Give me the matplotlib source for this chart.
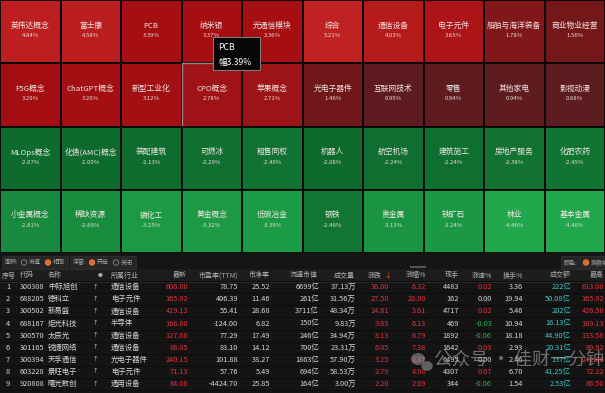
import matplotlib
matplotlib.use('Agg')
import matplotlib.pyplot as plt
from matplotlib.patches import Rectangle, Circle, Ellipse
from matplotlib.colors import LinearSegmentedColormap, Normalize

plt.rcParams['font.family'] = ['Noto Sans CJK SC', 'DejaVu Sans']

# ---- treemap data (4 rows x 10 cols, equal area) ----
sectors = ['英伟达概念', '富士康', 'PCB', '纳米银', '光通信模块', '综合', '通信设备', '电子元件', '船舶与海洋装备', '商业物业经营',
           'F5G概念', 'ChatGPT概念', '新型工业化', 'CPO概念', '苹果概念', '光电子器件', '互联网技术', '零售', '其他家电', '影视动漫',
           'MLOps概念', '化债(AMC)概念', '装配建筑', '可燃冰', '租售同权', '机器人', '航空机场', '建筑施工', '房地产服务', '化肥农药',
           '小金属概念', '稀缺资源', '磷化工', '黄金概念', '低碳冶金', '钢铁', '贵金属', '铁矿石', '林业', '基本金属']
changes = [4.84, 4.58, 3.39, 3.37, 3.36, 5.21, 4.03, 3.65, 1.78, 1.56,
           3.29, 3.20, 3.12, 2.78, 2.71, 1.46, 0.95, 0.94, 0.94, 0.88,
           -2.07, -2.09, -2.13, -2.29, -2.40, -2.08, -2.24, -2.24, -2.38, -2.45,
           -2.81, -2.89, -3.25, -3.32, -3.39, -2.46, -3.13, -3.24, -4.46, -4.46]

# ---- table data ----
idx = ['1', '2', '3', '4', '5', '6', '7', '8', '9']
codes = ['300308', '688205', '300502', '688167', '300570', '301165', '300394', '603228', '920808']
names = ['中际旭创', '德科立', '新易盛', '炬光科技', '太辰光', '锐捷网络', '天孚通信', '景旺电子', '曙光数创']
industry = ['通信设备', '电子元件', '通信设备', '半导体', '通信设备', '通信设备', '光电子器件', '电子元件', '通用设备']
last = ['606.00', '165.02', '419.13', '166.80', '127.88', '88.05', '240.15', '71.13', '84.08']
pe = ['78.75', '406.39', '55.41', '-124.00', '77.29', '83.10', '101.88', '57.76', '-4424.70']
pb = ['25.52', '11.46', '28.68', '6.82', '17.49', '14.12', '38.27', '5.49', '25.85']
float_cap = ['6699亿', '261亿', '3711亿', '150亿', '246亿', '700亿', '1863亿', '694亿', '164亿']
volume = ['37.13万', '31.56万', '48.34万', '9.83万', '34.94万', '23.31万', '57.90万', '58.53万', '3.00万']
chg = ['36.00', '27.50', '14.61', '9.63', '8.13', '6.05', '3.25', '2.79', '2.20']
chg_pct = ['6.32', '20.00', '3.61', '6.13', '6.79', '7.38', '1.37', '4.08', '2.69']
hand = ['4483', '162', '4717', '469', '1892', '1642', '6495', '4307', '344']
speed = ['0.02', '0.00', '0.02', '-0.03', '-0.06', '0.03', '0.00', '0.07', '-0.06']
turnover = ['3.36', '19.94', '5.46', '10.94', '18.18', '2.93', '2.46', '6.70', '1.54']
amount = ['222亿', '50.08亿', '202亿', '16.13亿', '44.90亿', '20.31亿', '137亿', '41.25亿', '2.53亿']
high = ['613.00', '165.02', '426.50', '169.13', '133.58', '89.92', '242.00', '72.22', '86.50']

RED = '#e0323a'
CYAN = '#3cc6c6'
GREEN = '#25b24c'
WHITE = '#d6d6d6'

fig = plt.figure(figsize=(6.05, 3.93), dpi=100)
fig.patch.set_facecolor('#141414')
ax = fig.add_axes([0, 0, 1, 1])
ax.set_xlim(0, 605)
ax.set_ylim(393, 0)
ax.axis('off')

# colour scales
red_cmap = LinearSegmentedColormap.from_list('r', [
    (0.0, '#5c1c20'), (0.13, '#6f1719'), (0.2, '#7f1719'), (0.4, '#9d1417'),
    (0.56, '#a40e11'), (0.7, '#b51a1c'), (1.0, '#c02222')])
red_norm = Normalize(0.88, 5.25)
green_cmap = LinearSegmentedColormap.from_list('g', [
    (0.0, '#0c6a2c'), (0.18, '#127433'), (0.32, '#178a3d'), (0.52, '#1c9a44'), (1.0, '#21a84d')])
green_norm = Normalize(2.0, 4.5)

ncol, nrow = 10, 4
W, H = 605, 253
cw, ch = W / ncol, H / nrow
for i, (n, v) in enumerate(zip(sectors, changes)):
    r, c = divmod(i, ncol)
    x0, y0 = c * cw, r * ch
    if v >= 0:
        col = red_cmap(red_norm(v))
    else:
        col = green_cmap(green_norm(-v))
    ec = '#050505'
    lw = 1.3
    if n == 'CPO概念':
        ec, lw = '#8c8c8c', 1.0
    ax.add_patch(Rectangle((x0, y0), cw, ch, facecolor=col, edgecolor=ec, lw=lw, zorder=1))
    ax.text(x0 + cw / 2, y0 + ch / 2 - 6, n, ha='center', va='center', fontsize=5.6, color='#f0e4e4', zorder=2)
    ax.text(x0 + cw / 2, y0 + ch / 2 + 4, f'{v:.2f}%', ha='center', va='center', fontsize=4.3,
            color='#e8d8d8', zorder=2)

# tooltip
ax.add_patch(Rectangle((213, 37), 47, 33, facecolor='#060606', edgecolor='#7a7a7a', lw=0.8, zorder=5))
ax.text(218, 48, 'PCB', fontsize=6.2, color='white', va='center', zorder=6)
ax.text(218, 62, '幅3.39%', fontsize=6.2, color='white', va='center', zorder=6)

# control bar
ax.add_patch(Rectangle((0, H), 605, 16, facecolor='#151515', lw=0, zorder=1))
for bx, bw in [(2, 66), (70, 66), (561, 44)]:
    ax.add_patch(Rectangle((bx, 256), bw, 13, facecolor='#262626', edgecolor='#333333', lw=0.5, zorder=2))
cy = 262.5
ax.text(5, cy, '面积:', fontsize=4.3, color='#a8a8a8', va='center', zorder=3)
ax.add_patch(Circle((24, cy), 2.7, facecolor='none', edgecolor='#8a8a8a', lw=0.6, zorder=3))
ax.text(29, cy, '市值', fontsize=4.3, color='#a8a8a8', va='center', zorder=3)
ax.add_patch(Circle((48, cy), 2.7, facecolor='#e8681e', edgecolor='#f08a40', lw=0.6, zorder=3))
ax.text(53, cy, '相同', fontsize=4.3, color='#a8a8a8', va='center', zorder=3)
ax.text(73, cy, '浮窗:', fontsize=4.3, color='#a8a8a8', va='center', zorder=3)
ax.add_patch(Circle((92, cy), 2.7, facecolor='#e8681e', edgecolor='#f08a40', lw=0.6, zorder=3))
ax.text(97, cy, '开启', fontsize=4.3, color='#a8a8a8', va='center', zorder=3)
ax.add_patch(Circle((116, cy), 2.7, facecolor='none', edgecolor='#8a8a8a', lw=0.6, zorder=3))
ax.text(121, cy, '关闭', fontsize=4.3, color='#a8a8a8', va='center', zorder=3)
ax.text(564, cy, '颜色:', fontsize=4.3, color='#a8a8a8', va='center', zorder=3)
ax.add_patch(Circle((586, cy), 2.7, facecolor='#e8681e', edgecolor='#f08a40', lw=0.6, zorder=3))
ax.text(591, cy, '涨跌幅', fontsize=4.3, color='#a8a8a8', va='center', zorder=3, clip_on=True)
ax.plot([411, 425], [267, 267], color='#555555', lw=1.5, zorder=3)

# table
ax.add_patch(Rectangle((0, 269), 605, 13, facecolor='#1c1c1c', lw=0, zorder=1))
ax.plot([0, 605], [282, 282], color='#2c2c2c', lw=0.6, zorder=2)
header_y = 275.5
row_y0, row_dy = 287.2, 12.1

columns = [
    ('序号', idx, 8, 'center', 2, 'left', WHITE),
    ('代码', codes, 20, 'left', 20, 'left', WHITE),
    ('名称', names, 48, 'left', 48, 'left', WHITE),
    ('', ['↑'] * 9, 95, 'center', 100, 'center', WHITE),
    ('所属行业', industry, 111, 'left', 111, 'left', WHITE),
    ('最新', last, 188, 'right', 187, 'right', RED),
    ('市盈率(TTM)', pe, 238, 'right', 238, 'right', WHITE),
    ('市净率', pb, 270, 'right', 270, 'right', WHITE),
    ('流通市值', float_cap, 319, 'right', 318, 'right', WHITE),
    ('成交量', volume, 356, 'right', 355, 'right', WHITE),
    ('涨跌', chg, 389, 'right', 382, 'right', RED),
    ('涨幅%', chg_pct, 426, 'right', 426, 'right', RED),
    ('现手', hand, 459, 'right', 459, 'right', WHITE),
    ('涨速%', speed, 492, 'right', 492, 'right', None),
    ('换手%', turnover, 523, 'right', 523, 'right', WHITE),
    ('成交额', amount, 571, 'right', 571, 'right', CYAN),
    ('最高', high, 604, 'right', 604, 'right', RED),
]

for head, vals, x, ha, hx, hha, color in columns:
    if head:
        ax.text(hx, header_y, head, fontsize=5.0, color='#b0b0b0', ha=hha, va='center', zorder=3)
    else:
        ax.text(hx, header_y, '●', fontsize=3.5, color='#b0b0b0', ha=hha, va='center', zorder=3)
    for i, v in enumerate(vals):
        c = color
        if c is None:
            fv = float(v)
            c = RED if fv > 0 else (GREEN if fv < 0 else WHITE)
        fs = 4.0 if head == '' else 5.3
        ax.text(x, row_y0 + i * row_dy, v, fontsize=fs, color=c, ha=ha, va='center', zorder=3)
ax.text(384, header_y, '↓', fontsize=5.0, color='#e8541e', ha='left', va='center', zorder=3)

for i in range(len(idx) + 1):
    yy = row_y0 - row_dy / 2 + i * row_dy
    ax.plot([0, 605], [yy, yy], color='#0b0b0b', lw=0.6, zorder=2)

# watermark
ax.add_patch(Ellipse((418, 359), 14, 12, facecolor='#bdbdbd', alpha=0.45, lw=0, zorder=7))
ax.add_patch(Ellipse((427, 366), 12, 10, facecolor='#bdbdbd', alpha=0.45, edgecolor='#141414', lw=0.6, zorder=7))
ax.text(434, 361, '公众号 · 佳财一分钟', fontsize=13, color='#cccccc', alpha=0.5, ha='left', va='center', zorder=7)

fig.savefig('out.png', dpi=100, facecolor=fig.get_facecolor())
